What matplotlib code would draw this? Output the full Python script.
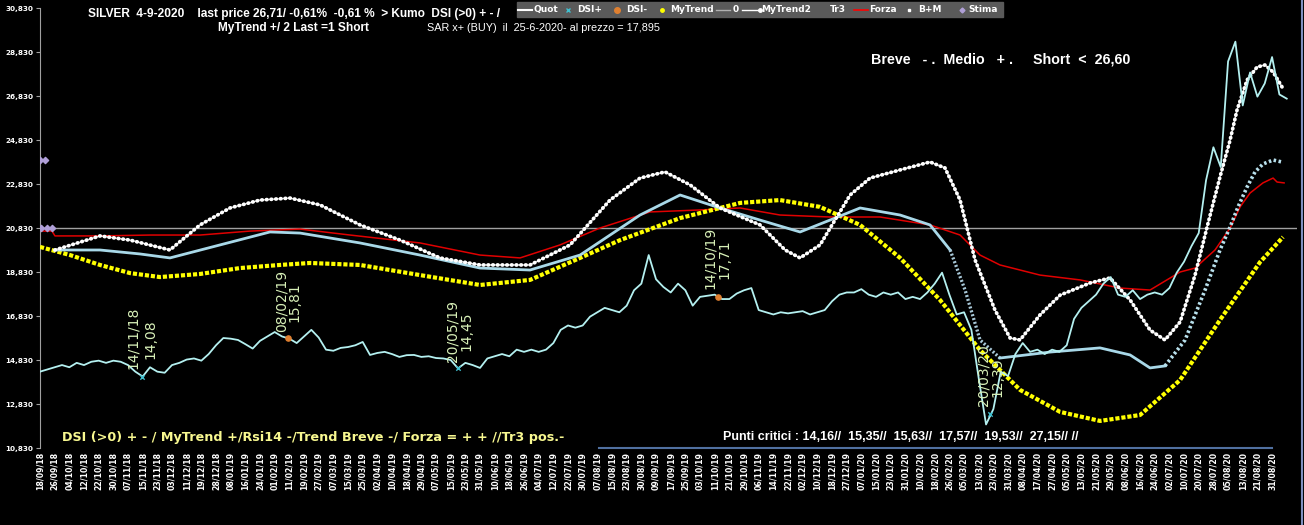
import numpy as np
import matplotlib
matplotlib.use('Agg')
import matplotlib.pyplot as plt

# x tick labels (one every 6 sessions)
dates = ['18/09/18', '26/09/18', '04/10/18', '12/10/18', '22/10/18', '30/10/18', '07/11/18', '15/11/18',
         '23/11/18', '03/12/18', '11/12/18', '19/12/18', '28/12/18', '08/01/19', '16/01/19', '24/01/19',
         '01/02/19', '11/02/19', '19/02/19', '27/02/19', '07/03/19', '15/03/19', '25/03/19', '02/04/19',
         '10/04/19', '18/04/19', '29/04/19', '07/05/19', '15/05/19', '23/05/19', '31/05/19', '10/06/19',
         '18/06/19', '26/06/19', '04/07/19', '12/07/19', '22/07/19', '30/07/19', '07/08/19', '15/08/19',
         '23/08/19', '30/08/19', '09/09/19', '17/09/19', '25/09/19', '03/10/19', '11/10/19', '21/10/19',
         '29/10/19', '06/11/19', '14/11/19', '22/11/19', '02/12/19', '10/12/19', '18/12/19', '27/12/19',
         '07/01/20', '15/01/20', '23/01/20', '31/01/20', '10/02/20', '18/02/20', '26/02/20', '05/03/20',
         '13/03/20', '23/03/20', '31/03/20', '08/04/20', '17/04/20', '27/04/20', '05/05/20', '13/05/20',
         '21/05/20', '29/05/20', '08/06/20', '16/06/20', '24/06/20', '02/07/20', '10/07/20', '20/07/20',
         '28/07/20', '05/08/20', '13/08/20', '21/08/20', '31/08/20']

# Quot: close read every 3 sessions (half a tick step)
price = [14.30, 14.40, 14.50, 14.60, 14.50, 14.70, 14.60, 14.75, 14.80, 14.70,
         14.80, 14.75, 14.60, 14.30, 14.08, 14.50, 14.30, 14.25, 14.60, 14.70,
         14.85, 14.90, 14.80, 15.10, 15.50, 15.83, 15.80, 15.74, 15.55, 15.35,
         15.70, 15.90, 16.10, 15.90, 15.80, 15.60, 15.90, 16.20, 15.85, 15.30,
         15.25, 15.38, 15.42, 15.50, 15.65, 15.06, 15.15, 15.20, 15.10, 14.97,
         15.05, 15.06, 14.97, 15.00, 14.92, 14.90, 14.83, 14.45, 14.70, 14.60,
         14.47, 14.90, 15.00, 15.10, 15.00, 15.30, 15.20, 15.30, 15.20, 15.30,
         15.60, 16.20, 16.40, 16.30, 16.40, 16.80, 17.00, 17.20, 17.10, 17.00,
         17.30, 18.00, 18.30, 19.60, 18.50, 18.15, 17.90, 18.30, 18.00, 17.30,
         17.70, 17.75, 17.80, 17.60, 17.60, 17.85, 18.00, 18.10, 17.10, 17.00,
         16.90, 17.00, 16.95, 17.00, 17.05, 16.90, 17.00, 17.10, 17.50, 17.80,
         17.90, 17.90, 18.05, 17.80, 17.70, 17.90, 17.80, 17.90, 17.60, 17.70,
         17.60, 17.90, 18.30, 18.80, 17.80, 16.90, 17.00, 16.20, 14.00, 11.90,
         12.60, 14.30, 14.10, 15.10, 15.60, 15.20, 15.30, 15.10, 15.30, 15.20,
         15.50, 16.70, 17.20, 17.50, 17.80, 18.30, 18.60, 17.80, 17.70, 18.00,
         17.60, 17.80, 17.90, 17.80, 18.10, 18.80, 19.30, 20.00, 20.60, 23.00,
         24.50, 23.60, 28.40, 29.30, 26.40, 27.90, 26.80, 27.40, 28.60, 26.90,
         26.71]

# MyTrend2 (white dotted)
trend2_x = [1.02, 4.09, 6.14, 8.86, 10.91, 12.95, 15.0, 17.05, 19.09, 21.82, 24.55, 27.27, 30.0,
            33.41, 36.14, 38.86, 40.91, 42.61, 44.32, 46.36, 49.09, 50.8, 51.82, 53.18, 55.23,
            56.59, 58.64, 60.68, 61.70, 62.73, 63.75, 65.11, 66.14, 66.82, 68.18, 69.55, 71.59,
            72.95, 74.32, 75.68, 76.70, 77.73, 78.75, 79.64, 80.45, 81.14, 81.61, 82.30, 82.98,
            83.52, 84.07, 84.68]
trend2_y = [19.83, 20.47, 20.28, 19.83, 20.97, 21.74, 22.10, 22.19, 21.88, 20.97, 20.28, 19.47, 19.15,
            19.15, 20.06, 22.10, 23.10, 23.38, 22.79, 21.74, 20.97, 19.83, 19.47, 20.06, 22.33,
            23.10, 23.47, 23.83, 23.56, 22.10, 19.38, 17.10, 15.83, 15.74, 16.88, 17.78, 18.33,
            18.56, 17.56, 16.19, 15.74, 16.56, 18.69, 21.06, 23.15, 24.83, 26.19, 27.56, 28.15,
            28.24, 27.92, 27.24]

# B+M (light blue smooth)
bm_x = [1.02, 4.09, 6.82, 8.86, 12.27, 15.68, 17.73, 21.82, 25.91, 30.0, 33.41, 36.82, 40.91,
        43.64, 46.36, 49.09, 51.82, 53.86, 55.91, 58.64, 60.68, 62.05, 63.07, 64.09, 65.45,
        68.86, 72.27, 74.32, 75.68, 76.70, 78.07, 79.43, 80.45, 81.14, 81.68, 82.30, 82.84,
        83.38, 84.07, 84.68]
bm_y = [19.83, 19.83, 19.65, 19.47, 20.06, 20.65, 20.60, 20.15, 19.60, 19.01, 18.92, 19.60, 21.42,
        22.33, 21.74, 21.19, 20.65, 21.19, 21.74, 21.42, 20.97, 19.83, 18.01, 15.74, 14.92,
        15.19, 15.38, 15.06, 14.47, 14.56, 15.74, 18.01, 19.83, 20.88, 21.79, 22.70, 23.38,
        23.74, 23.92, 23.83]

# MyTrend (yellow)
trend_x = [0, 2.05, 4.09, 6.14, 8.18, 10.91, 13.64, 16.36, 18.41, 21.82, 25.91, 30.0, 33.41,
           36.82, 39.55, 43.64, 47.73, 50.45, 53.18, 55.91, 58.64, 61.36, 64.09, 66.82, 69.55,
           72.27, 75.0, 77.73, 80.45, 83.18, 84.75]
trend_y = [19.97, 19.60, 19.15, 18.78, 18.60, 18.74, 19.01, 19.15, 19.24, 19.15, 18.69, 18.24, 18.47,
           19.47, 20.28, 21.28, 21.97, 22.10, 21.79, 20.97, 19.47, 17.56, 15.28, 13.47, 12.47,
           12.06, 12.33, 13.92, 16.65, 19.28, 20.42]

# Forza (red)
forza_x = [0, 0.82, 1.02, 4.09, 7.5, 10.91, 14.32, 17.73, 21.14, 25.91, 30.0, 32.73, 35.45, 38.18,
           41.59, 45.0, 47.73, 50.45, 53.86, 57.27, 60.68, 62.73, 64.09, 65.45, 68.18, 70.91,
           73.64, 75.68, 77.73, 78.75, 80.11, 81.14, 81.82, 82.5, 83.38, 84.07, 84.34, 84.82]
forza_y = [20.69, 20.69, 20.47, 20.47, 20.51, 20.51, 20.69, 20.78, 20.51, 20.15, 19.60, 19.47, 20.06,
           20.83, 21.56, 21.65, 21.74, 21.42, 21.33, 21.33, 20.97, 20.51, 19.60, 19.15, 18.69,
           18.47, 18.10, 18.01, 18.83, 19.01, 19.83, 20.83, 21.79, 22.42, 22.88, 23.10, 22.92, 22.88]

zero_level = 20.83
stima_x = [0.0, 0.35, 0.1, 0.45, 0.8]
stima_y = [23.92, 23.92, 20.83, 20.83, 20.83]

# DSI+ / DSI- points with their labels
dsi_plus_x = [6.95, 28.5, 64.8]
dsi_plus_y = [14.08, 14.45, 12.39]
dsi_plus_lbl = ['14/11/18', '20/05/19', '20/03/20']
dsi_minus_x = [16.9, 46.2]
dsi_minus_y = [15.81, 17.71]
dsi_minus_lbl = ['08/02/19', '14/10/19']
# centres of the rotated labels (date, value)
lbl_pos = [((6.35, 15.83), (7.5, 15.78)), ((28.1, 16.15), (29.05, 16.15)), ((64.36, 14.15), (65.25, 14.06)),
           ((16.5, 17.51), (17.32, 17.47)), ((45.68, 19.47), (46.64, 19.42))]

W, H = 1304, 525
fig = plt.figure(figsize=(W / 100, H / 100), dpi=100, facecolor='black')
ax = fig.add_axes([40 / W, 77 / H, 1257 / W, 440 / H])
ax.set_facecolor('black')
ax.set_xlim(0, 85.7)
ax.set_ylim(10.83, 30.83)

ax.axhline(zero_level, color='#a0a0a0', lw=1, zorder=1)
ax.plot(forza_x, forza_y, color='#e00000', lw=1.1, zorder=2)
ax.plot(trend_x, trend_y, color='#ffff00', lw=3.0, dashes=(1.0, 0.45), zorder=3)

# B+M: solid where flat, dotted on the steep parts
ax.plot(bm_x[:22], bm_y[:22], color='#a8d8e8', lw=2.0, zorder=3)
ax.plot(bm_x[21:25], bm_y[21:25], color='#a8c8d8', lw=2.4, linestyle=(0, (0.6, 0.6)), zorder=3)
ax.plot(bm_x[24:30], bm_y[24:30], color='#a8d8e8', lw=2.0, zorder=3)
ax.plot(bm_x[29:], bm_y[29:], color='#b8e0ec', lw=2.6, linestyle=(0, (0.7, 0.7)), zorder=3)

ax.plot(trend2_x, trend2_y, color='#c8c8c8', lw=0.9, zorder=4)
ax.plot(trend2_x, trend2_y, color='white', lw=2.7, linestyle=(0, (0.15, 1.1)),
        dash_capstyle='round', zorder=4)
ax.plot(np.arange(len(price)) * 0.5, price, color='#b4f0f0', lw=1.3, zorder=5)
ax.scatter(stima_x, stima_y, marker='D', s=10, color='#b0a0d8', zorder=6)
ax.scatter(dsi_plus_x, dsi_plus_y, marker='x', s=10, color='#40c0d0', lw=1, zorder=6)
ax.scatter(dsi_minus_x, dsi_minus_y, marker='o', s=14, color='#e08030', zorder=6)

vals = dsi_plus_y + dsi_minus_y
lbls = dsi_plus_lbl + dsi_minus_lbl
for (p1, p2), d, v in zip(lbl_pos, lbls, vals):
    ax.text(p1[0], p1[1], d, rotation=90, ha='center', va='center', color='#d8f0b8',
            fontsize=10, fontfamily='DejaVu Sans', zorder=7)
    ax.text(p2[0], p2[1], ('%.2f' % v).replace('.', ','), rotation=90, ha='center', va='center',
            color='#d8f0b8', fontsize=10, fontfamily='DejaVu Sans', zorder=7)

# axes styling
for s in ['top', 'right', 'bottom']:
    ax.spines[s].set_visible(False)
ax.spines['left'].set_color('#a0a0a0')
yt = np.arange(10.83, 30.84, 2)
ax.set_yticks(yt)
ax.set_yticklabels([('%.3f' % v).replace('.', ',') for v in yt], color='white',
                   fontsize=5.2, fontweight='bold')
ax.tick_params(axis='y', length=3, color='#a0a0a0', pad=2)
ax.set_xticks(range(len(dates)))
ax.set_xticklabels(dates, rotation=90, color='white', fontsize=5.6, fontweight='bold', va='top')
ax.tick_params(axis='x', length=0, pad=3)
ax.plot([38.1, 84.0], [10.83, 10.83], color='#5070a0', lw=1.5, clip_on=False, zorder=8)

# overlay in pixel coordinates for texts and legend
ov = fig.add_axes([0, 0, 1, 1])
ov.set_xlim(0, W)
ov.set_ylim(H, 0)
ov.axis('off')
ov.patch.set_alpha(0)

ov.text(88, 14, 'SILVER  4-9-2020    last price 26,71/ -0,61%  -0,61 %  > Kumo  DSI (>0) + - /',
        color='white', fontsize=8.6, fontweight='bold', fontfamily='Liberation Sans', va='center')
ov.text(218, 28, 'MyTrend +/ 2 Last =1 Short', color='white', fontsize=8.6, fontweight='bold',
        fontfamily='Liberation Sans', va='center')
ov.text(427, 28, 'SAR x+ (BUY)  il  25-6-2020- al prezzo = 17,895', color='white', fontsize=7.8,
        fontfamily='Liberation Sans', va='center')
ov.text(871, 59, 'Breve   - .  Medio   + .     Short  <  26,60', color='white', fontsize=10.3,
        fontweight='bold', fontfamily='Liberation Sans', va='center')
ov.text(62, 437, 'DSI (>0) + - / MyTrend +/Rsi14 -/Trend Breve -/ Forza = + + //Tr3 pos.-',
        color='#f8f890', fontsize=9.2, fontweight='bold', fontfamily='DejaVu Sans', va='center')
ov.text(723, 437, 'Punti critici : 14,16//  15,35//  15,63//  17,57//  19,53//  27,15// //',
        color='white', fontsize=9.0, fontweight='bold', fontfamily='Liberation Sans', va='center')

# legend strip
ov.add_patch(plt.Rectangle((517, 2), 486, 15, color='#5a5a5a', zorder=1))
lk = dict(color='white', fontsize=6.5, fontweight='bold', fontfamily='DejaVu Sans', va='center', zorder=3)
ly = 9.5
ov.plot([518, 532], [ly, ly], color='white', lw=1.5, zorder=2)
ov.text(534, ly, 'Quot', **lk)
ov.plot([568], [ly], marker='x', ms=3, color='#40c0d0', zorder=2)
ov.text(577, ly, 'DSI+', **lk)
ov.plot([617], [ly], marker='o', ms=4, color='#e08030', zorder=2)
ov.text(626, ly, 'DSI-', **lk)
ov.plot([662], [ly], marker='o', ms=2.5, color='#ffff00', zorder=2)
ov.text(670, ly, 'MyTrend', **lk)
ov.plot([716, 730], [ly, ly], color='#b0b0b0', lw=1, zorder=2)
ov.text(733, ly, '0', **lk)
ov.plot([742, 760], [ly, ly], color='white', lw=1, marker='o', ms=2.5, markevery=[1], zorder=2)
ov.text(761, ly, 'MyTrend2', **lk)
ov.text(830, ly, 'Tr3', **lk)
ov.plot([854, 868], [ly, ly], color='#ff0000', lw=1.2, zorder=2)
ov.text(869, ly, 'Forza', **lk)
ov.plot([909], [ly], marker='s', ms=1.8, color='white', zorder=2)
ov.text(918, ly, 'B+M', **lk)
ov.plot([962], [ly], marker='D', ms=2.5, color='#b0a0d8', zorder=2)
ov.text(968, ly, 'Stima', **lk)
ov.plot([1302, 1302], [0, H], color='#8090c0', lw=1.5)

fig.savefig('out.png', dpi=100, facecolor='black')
